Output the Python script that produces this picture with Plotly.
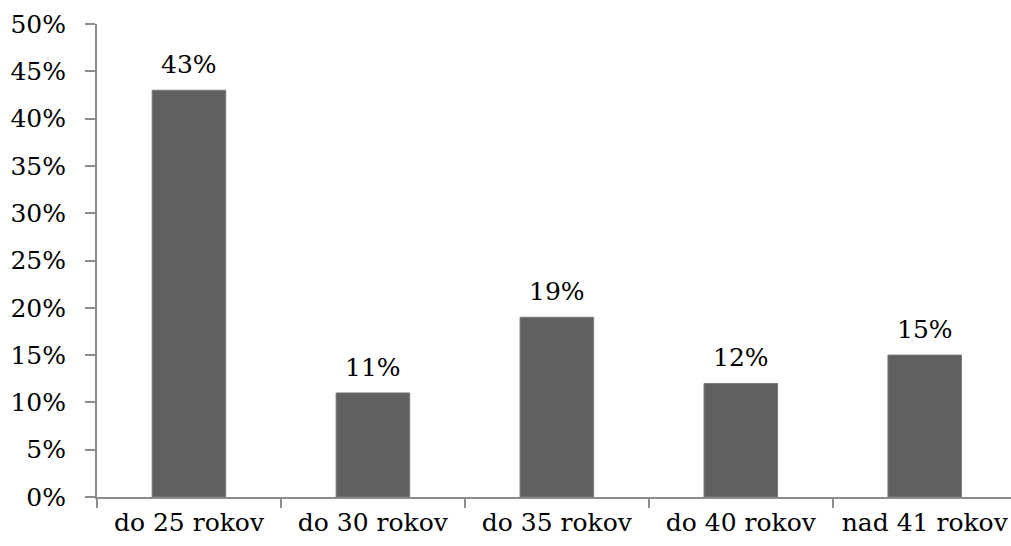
import plotly.graph_objects as go

categories = ["do 25 rokov", "do 30 rokov", "do 35 rokov", "do 40 rokov", "nad 41 rokov"]
shares = [43, 11, 19, 12, 15]
y_ticks = list(range(0, 51, 5))
y_tick_labels = [f"{v}%" for v in y_ticks]

FONT = dict(family="DejaVu Serif", size=25, color="#000000")
AXIS = "#8c8c8c"

fig = go.Figure(
    go.Bar(
        x=categories,
        y=shares,
        marker=dict(color="#606060", line=dict(color="#7a7a7a", width=1)),
        width=0.4,
        hoverinfo="skip",
    )
)

# value labels above each bar
for cat, val in zip(categories, shares):
    fig.add_annotation(
        x=cat, y=val, text=f"{val}%", showarrow=False,
        yanchor="bottom", yshift=9, font=FONT,
    )

fig.update_layout(
    width=1011, height=546,
    margin=dict(l=97, r=0, t=24, b=49, pad=0),
    plot_bgcolor="white", paper_bgcolor="white",
    showlegend=False,
    font=FONT,
)

fig.update_xaxes(
    range=[-0.5, 4.469],
    showline=True, linecolor=AXIS, linewidth=2,
    ticks="outside", tickson="boundaries", ticklen=9, tickwidth=2, tickcolor=AXIS,
    showgrid=False, zeroline=False, automargin=False, tickangle=0,
    ticklabelstandoff=2,
    tickfont=FONT,
)
fig.update_yaxes(
    range=[0, 50],
    tickmode="array", tickvals=y_ticks, ticktext=y_tick_labels,
    showline=True, linecolor=AXIS, linewidth=2,
    ticks="outside", ticklen=10, tickwidth=2, tickcolor=AXIS,
    showgrid=False, zeroline=False, automargin=False,
    ticklabelstandoff=14,
    tickfont=FONT,
)

fig.write_html("out.html")
